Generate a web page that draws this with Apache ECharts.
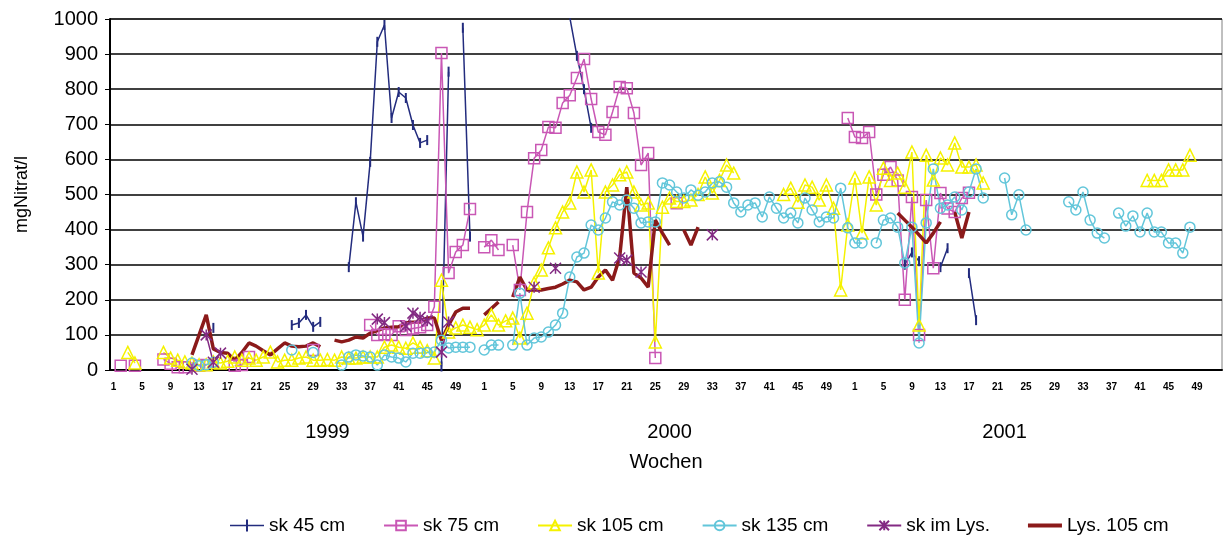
<!DOCTYPE html>
<html>
<head>
<meta charset="utf-8">
<script src="https://cdn.jsdelivr.net/npm/echarts@6/dist/echarts.min.js"></script>
<style>
  html, body { margin: 0; background: #fff; }
  #chart { width: 1223px; height: 537px; }
</style>
</head>
<body>
<div id="chart"></div>
<script>
const _ = null;

// Kalenderwochen 1..52 je Jahr
const years = ['1999', '2000', '2001'];
const weeks = [];
const yearOfWeek = [];
years.forEach(y => {
  for (let w = 1; w <= 52; w++) { weeks.push(String(w)); yearOfWeek.push(y); }
});
const yearLabelAt = [30, 78, 125];

// Messwerte mg Nitrat/l, je Jahr 52 Wochen (Zeilen zu 13 Wochen)
const sk45_1999 = [
  _,_,_,_,_,_,_,_,_,_,_,_,_,
  _,120,_,_,_,_,_,_,_,_,_,_,128,
  134,157,123,137,_,_,_,293,478,380,593,935,983,
  718,792,775,698,647,655,_,10,850,_,975,380,_];
const sk45_2000 = [
  _,_,_,_,_,_,_,_,_,_,_,_,1005,
  895,800,690,_,_,_,_,_,_,_,_,_,_,
  _,_,_,_,_,_,_,_,_,_,_,_,_,
  _,_,_,_,_,_,_,_,_,_,_,_,_];
const sk45_2001 = [
  _,_,_,_,_,_,_,300,335,310,_,_,293,
  347,_,_,276,142,_,_,_,_,_,_,_,_,
  _,_,_,_,_,_,_,_,_,_,_,_,_,
  _,_,_,_,_,_,_,_,_,_,_,_,_];

const sk75_1999 = [
  _,12,_,12,_,_,_,30,18,8,8,_,12,
  14,_,_,_,12,14,37,_,_,_,_,_,_,
  _,_,57,_,_,_,_,_,_,_,128,100,102,
  100,125,114,118,122,128,180,903,276,336,356,459,_];
const sk75_2000 = [
  350,370,342,_,356,228,450,603,627,692,690,761,783,
  832,886,772,678,670,735,806,803,732,584,618,34,_,
  _,475,_,_,_,_,_,_,_,_,_,_,_,
  _,_,_,_,_,_,_,_,_,_,_,_,718];
const sk75_2001 = [
  664,661,678,500,556,578,540,200,493,100,484,290,504,
  460,450,490,505,_,_,_,_,_,_,_,_,_,
  _,_,_,_,_,_,_,_,_,_,_,_,_,
  _,_,_,_,_,_,_,_,_,_,_,_,_];

const sk105_1999 = [
  _,_,50,20,_,_,_,50,34,28,23,20,15,
  15,23,20,25,37,28,34,28,37,51,23,28,28,
  34,37,28,28,30,28,37,34,34,37,37,37,65,
  71,65,62,77,65,55,34,256,108,120,128,122,115];
const sk105_2000 = [
  128,157,128,140,148,91,162,248,285,348,405,450,476,
  564,507,570,276,507,527,556,564,507,470,476,80,464,
  490,480,480,484,500,550,504,540,584,561,_,_,_,
  _,_,_,500,518,478,527,521,484,527,461,228,413];
const sk105_2001 = [
  547,390,550,470,575,540,561,521,621,128,612,541,604,
  584,647,578,578,584,533,_,_,_,_,_,_,_,
  _,_,_,_,_,_,_,_,_,_,_,_,_,
  _,_,540,540,540,570,570,570,612,_,_,_,_];

const sk135_1999 = [
  _,_,_,_,_,_,_,_,_,_,_,20,12,
  15,22,_,_,_,_,_,_,_,_,_,_,57,
  _,_,50,_,_,_,14,37,43,40,37,14,43,
  37,34,23,48,48,50,51,85,63,65,65,65,_];
const sk135_2000 = [
  57,71,71,_,71,219,71,91,94,108,128,162,265,
  322,333,413,399,433,479,470,484,461,419,422,422,533,
  527,507,490,513,498,507,533,536,521,476,450,470,476,
  436,493,461,433,447,419,490,456,422,436,433,518,405];
const sk135_2001 = [
  362,362,_,362,427,433,407,305,407,77,419,573,461,
  470,493,456,507,573,490,_,_,547,442,499,399,_,
  _,_,_,_,479,456,507,427,390,376,_,447,410,
  439,393,447,393,393,362,362,333,407,_,_,_,_];

const skLys_1999 = [
  _,_,_,_,_,_,_,_,_,_,_,2,_,
  100,22,48,_,_,_,_,_,_,_,_,_,_,
  _,_,_,_,_,_,_,_,_,_,_,145,135,
  _,_,125,162,150,140,_,51,137,_,_,_,_];
const skLys_2000 = [
  _,_,_,_,_,_,_,236,_,_,290,_,_,
  _,_,_,_,_,_,319,313,_,279,_,_,_,
  _,_,_,_,_,_,385,_,_,_,_,_,_,
  _,_,_,_,_,_,_,_,_,_,_,_,_];
const skLys_2001 = new Array(52).fill(_);

const lys105_1999 = [
  _,_,_,_,_,_,_,_,_,_,_,43,100,
  157,60,50,48,28,50,77,68,55,43,60,77,68,
  66,68,77,66,_,85,80,85,94,91,105,112,120,
  122,123,134,136,137,148,148,85,128,165,176,176,_];
const lys105_2000 = [
  157,175,194,_,208,265,228,228,228,232,236,245,256,
  251,228,236,265,285,256,322,521,276,262,236,427,390,
  356,_,399,356,407,_,_,_,_,_,_,_,_,
  _,_,_,_,_,_,_,_,_,_,_,_,_];
const lys105_2001 = [
  _,_,_,_,_,_,447,427,407,385,362,390,422,
  _,450,376,450,_,_,_,_,_,_,_,_,_,
  _,_,_,_,_,_,_,_,_,_,_,_,_,
  _,_,_,_,_,_,_,_,_,_,_,_,_];

const font = 'Liberation Sans, Arial, sans-serif';

function line(name, data, color, symbol, symbolSize, filled) {
  return {
    name: name,
    type: 'line',
    data: data,
    symbol: symbol,
    symbolSize: symbolSize,
    showSymbol: symbol !== 'none',
    showAllSymbol: true,
    connectNulls: false,
    lineStyle: { color: color, width: 1.5 },
    itemStyle: filled
      ? { color: color }
      : { color: 'rgba(0,0,0,0)', borderColor: color, borderWidth: 1.5 },
    emphasis: { disabled: true }
  };
}

const chart = echarts.init(document.getElementById('chart'));
const series = [
  line('sk 45 cm', sk45_1999.concat(sk45_2000, sk45_2001), '#232C7E', 'rect', [2, 10], true),
  line('sk 75 cm', sk75_1999.concat(sk75_2000, sk75_2001), '#C957B5', 'rect', 11, false),
  line('sk 105 cm', sk105_1999.concat(sk105_2000, sk105_2001), '#F5F200', 'triangle', 12, false),
  line('sk 135 cm', sk135_1999.concat(sk135_2000, sk135_2001), '#62C6DA', 'circle', 10, false),
  line('sk im Lys.', skLys_1999.concat(skLys_2000, skLys_2001), '#832A83',
       'path://M0,0L10,10M10,0L0,10M5,0L5,10', 11, false),
  line('Lys. 105 cm', lys105_1999.concat(lys105_2000, lys105_2001), '#8B1A1A', 'none', 0, true)
];
series[5].lineStyle.width = 3.5;

chart.setOption({
  animation: false,
  textStyle: { fontFamily: font },
  grid: { left: 110, right: 1, top: 19, bottom: 167, show: true, borderColor: '#808080', borderWidth: 1 },
  legend: {
    left: 225, top: 511,
    itemWidth: 34, itemHeight: 12, itemGap: 38,
    textStyle: { fontSize: 19, color: '#000', fontFamily: font },
    data: [
      { name: 'sk 45 cm', icon: 'path://M0,5.25H34V6.75H0ZM16,0H18V12H16Z' },
      'sk 75 cm', 'sk 105 cm', 'sk 135 cm', 'sk im Lys.',
      { name: 'Lys. 105 cm', icon: 'path://M0,0H34V4H0Z' }
    ]
  },
  xAxis: [
    {
      type: 'category',
      data: weeks,
      boundaryGap: true,
      axisLine: { lineStyle: { color: '#000', width: 2 } },
      axisTick: { show: false },
      axisLabel: { interval: 3, fontSize: 10, fontWeight: 'bold', color: '#000', margin: 12 }
    },
    {
      type: 'category',
      data: yearOfWeek,
      position: 'bottom',
      axisLine: { show: false },
      axisTick: { show: false },
      axisLabel: {
        interval: (i) => yearLabelAt.includes(i),
        fontSize: 20, color: '#000', margin: 52
      },
      name: 'Wochen',
      nameLocation: 'middle',
      nameGap: 82,
      nameTextStyle: { fontSize: 20, color: '#000' }
    }
  ],
  yAxis: {
    type: 'value',
    min: 0, max: 1000, interval: 100,
    axisLine: { show: true, lineStyle: { color: '#000', width: 2 } },
    axisTick: { show: true, length: 5, lineStyle: { color: '#000' } },
    axisLabel: { fontSize: 20, color: '#000', margin: 12, formatter: (v) => String(v) },
    splitLine: { lineStyle: { color: '#000', width: 1.5 } },
    name: 'mgNitrat/l',
    nameLocation: 'middle',
    nameGap: 79,
    nameTextStyle: { fontSize: 18, color: '#000' }
  },
  series: series
});
</script>
</body>
</html>
